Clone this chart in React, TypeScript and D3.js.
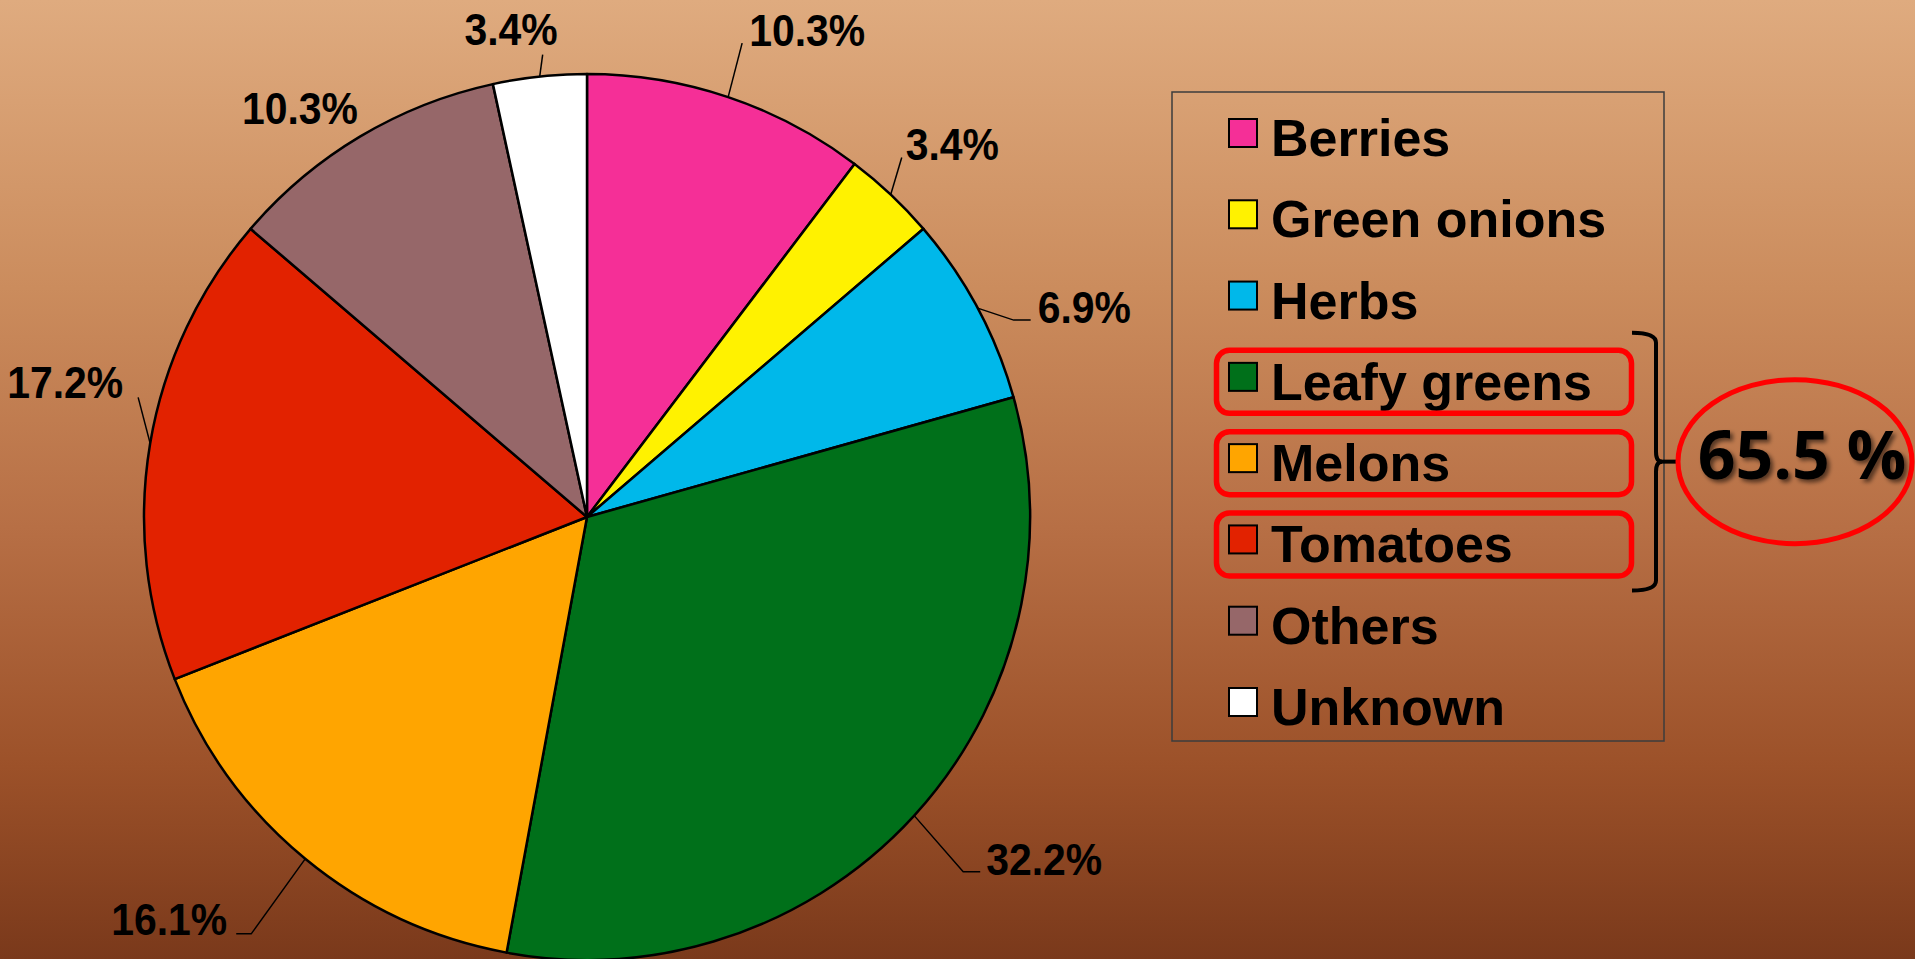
import React, { useEffect, useRef } from 'react';
import * as d3 from 'd3';

const categories = ['Berries', 'Green onions', 'Herbs', 'Leafy greens', 'Melons', 'Tomatoes', 'Others', 'Unknown'];
const shares = [10.3, 3.4, 6.9, 32.2, 16.1, 17.2, 10.3, 3.4];
const highlighted = ['Leafy greens', 'Melons', 'Tomatoes'];
const groupTotal = '65.5 %';

const sliceColors = ['#f52f97', '#fff200', '#00b8ea', '#00701a', '#ffa500', '#e22200', '#966769', '#ffffff'];

// leader line bends, relative to the point where the line leaves the pie
const leaders = [
  { dx: 14, dy: -54, hook: 0, tx: 7, ty: 3, anchor: 'start', line: true },
  { dx: 11, dy: -37, hook: 0, tx: 4, ty: 2, anchor: 'start', line: true },
  { dx: 36, dy: 12, hook: 17, tx: 7, ty: 3, anchor: 'start', line: true },
  { dx: 49, dy: 56, hook: 17, tx: 6, ty: 3, anchor: 'start', line: true },
  { dx: -54, dy: 75, hook: -15, tx: -9, ty: 1, anchor: 'end', line: true },
  { dx: -12, dy: -46, hook: 0, tx: -15, ty: 1, anchor: 'end', line: true },
  { dx: 0, dy: 0, hook: 0, tx: -2, ty: -13, anchor: 'end', line: false },
  { dx: 3, dy: -22, hook: 0, tx: 15, ty: -10, anchor: 'end', line: true },
];

const W = 1915;
const H = 959;

export default function App() {
  const svgRef = useRef<SVGSVGElement>(null);

  useEffect(() => {
    document.body.style.margin = '0';
    if (!svgRef.current) return;
    const svg = d3.select(svgRef.current);
    svg.selectAll('*').remove();

    const defs = svg.append('defs');
    const grad = defs.append('linearGradient')
      .attr('id', 'bg')
      .attr('x1', 0).attr('y1', 0).attr('x2', 0).attr('y2', 1);
    [['0', '#dfab7f'], ['0.3', '#cb8c5d'], ['0.55', '#b76f45'], ['0.8', '#9c5129'], ['1', '#7a391b']]
      .forEach(([o, c]) => grad.append('stop').attr('offset', o).attr('stop-color', c));

    const shadow = defs.append('filter').attr('id', 'shadow')
      .attr('x', '-20%').attr('y', '-20%').attr('width', '140%').attr('height', '140%');
    shadow.append('feDropShadow')
      .attr('dx', 3).attr('dy', 3).attr('stdDeviation', 2)
      .attr('flood-color', '#000').attr('flood-opacity', 0.55);

    svg.append('rect').attr('width', W).attr('height', H).attr('fill', 'url(#bg)');

    // pie
    const cx = 587;
    const cy = 517;
    const radius = 443;

    const pie = d3.pie<number>().sort(null).value(d => d);
    const arcs = pie(shares);
    const arc = d3.arc<d3.PieArcDatum<number>>().innerRadius(0).outerRadius(radius);
    const edge = d3.arc<d3.PieArcDatum<number>>().innerRadius(radius).outerRadius(radius);

    const g = svg.append('g').attr('transform', `translate(${cx},${cy})`);

    g.selectAll('.slice')
      .data(arcs)
      .enter()
      .append('path')
      .attr('class', 'slice')
      .attr('d', arc)
      .attr('fill', (_, i) => sliceColors[i])
      .attr('stroke', '#000')
      .attr('stroke-width', 2.5)
      .attr('stroke-linejoin', 'round');

    // labels with leader lines
    arcs.forEach((a, i) => {
      const [px, py] = edge.centroid(a);
      const l = leaders[i];
      const ex = px + l.dx;
      const ey = py + l.dy;
      const hx = ex + l.hook;
      if (l.line) {
        g.append('path')
          .attr('d', `M${px},${py}L${ex},${ey}L${hx},${ey}`)
          .attr('fill', 'none')
          .attr('stroke', '#000')
          .attr('stroke-width', 1.5);
      }
      const tx = hx + l.tx;
      const ty = ey + l.ty;
      // labels in the original are a touch narrower than Arial
      g.append('text')
        .attr('transform', `translate(${tx},${ty}) scale(0.93,1)`)
        .attr('text-anchor', l.anchor)
        .attr('font-family', '"Liberation Sans", Arial, sans-serif')
        .attr('font-weight', 700)
        .attr('font-size', 44)
        .attr('fill', '#000')
        .text(`${d3.format('.1f')(a.data)}%`);
    });

    // legend
    const legendX = 1172;
    const legendY = 92;
    const rowY = d3.scaleLinear().domain([0, categories.length - 1]).range([133, 702]);

    svg.append('rect')
      .attr('x', legendX).attr('y', legendY)
      .attr('width', 1664 - legendX).attr('height', 741 - legendY)
      .attr('fill', 'none')
      .attr('stroke', '#3c3c3c')
      .attr('stroke-width', 1.5);

    const lg = svg.append('g');
    categories.forEach((c, i) => {
      const y = rowY(i);
      lg.append('rect')
        .attr('x', 1229).attr('y', y - 14)
        .attr('width', 28).attr('height', 28)
        .attr('fill', sliceColors[i])
        .attr('stroke', '#000')
        .attr('stroke-width', 2);
      lg.append('text')
        .attr('x', 1271)
        .attr('y', y + 23)
        .attr('font-family', '"Liberation Sans", Arial, sans-serif')
        .attr('font-weight', 700)
        .attr('font-size', 52)
        .attr('fill', '#000')
        .text(c);
      if (highlighted.includes(c)) {
        lg.append('rect')
          .attr('x', 1216.5).attr('y', y - 26.5)
          .attr('width', 415).attr('height', 63)
          .attr('rx', 13)
          .attr('fill', 'none')
          .attr('stroke', '#ff0000')
          .attr('stroke-width', 5.5);
      }
    });

    // brace around the highlighted rows
    const idx = highlighted.map(h => categories.indexOf(h));
    const top = rowY(d3.min(idx) || 0) - 44;
    const bot = rowY(d3.max(idx) || 0) + 51;
    const mid = (top + bot) / 2;
    const bx = 1656;
    svg.append('path')
      .attr('d', `M1632,${top}Q${bx},${top} ${bx},${top + 10}L${bx},${mid - 10}Q${bx},${mid} ${bx + 6},${mid}` +
        `Q${bx},${mid} ${bx},${mid + 10}L${bx},${bot - 10}Q${bx},${bot} 1632,${bot}`)
      .attr('fill', 'none')
      .attr('stroke', '#000')
      .attr('stroke-width', 4);

    const ex0 = 1795;
    const rx = 117;
    svg.append('line')
      .attr('x1', bx + 4).attr('x2', ex0 - rx)
      .attr('y1', mid).attr('y2', mid)
      .attr('stroke', '#000')
      .attr('stroke-width', 4);

    svg.append('ellipse')
      .attr('cx', ex0).attr('cy', mid)
      .attr('rx', rx).attr('ry', 82)
      .attr('fill', 'none')
      .attr('stroke', '#ff0000')
      .attr('stroke-width', 5);

    svg.append('text')
      .attr('x', 1802)
      .attr('y', mid + 17)
      .attr('text-anchor', 'middle')
      .attr('font-family', '"Open Sans", Lato, sans-serif')
      .attr('font-weight', 700)
      .attr('font-size', 66)
      .attr('fill', '#000')
      .attr('filter', 'url(#shadow)')
      .text(groupTotal);
  }, []);

  return (
    <div style={{ position: 'absolute', left: 0, top: 0 }}>
      <svg ref={svgRef} width={W} height={H} style={{ display: 'block' }} />
    </div>
  );
}
